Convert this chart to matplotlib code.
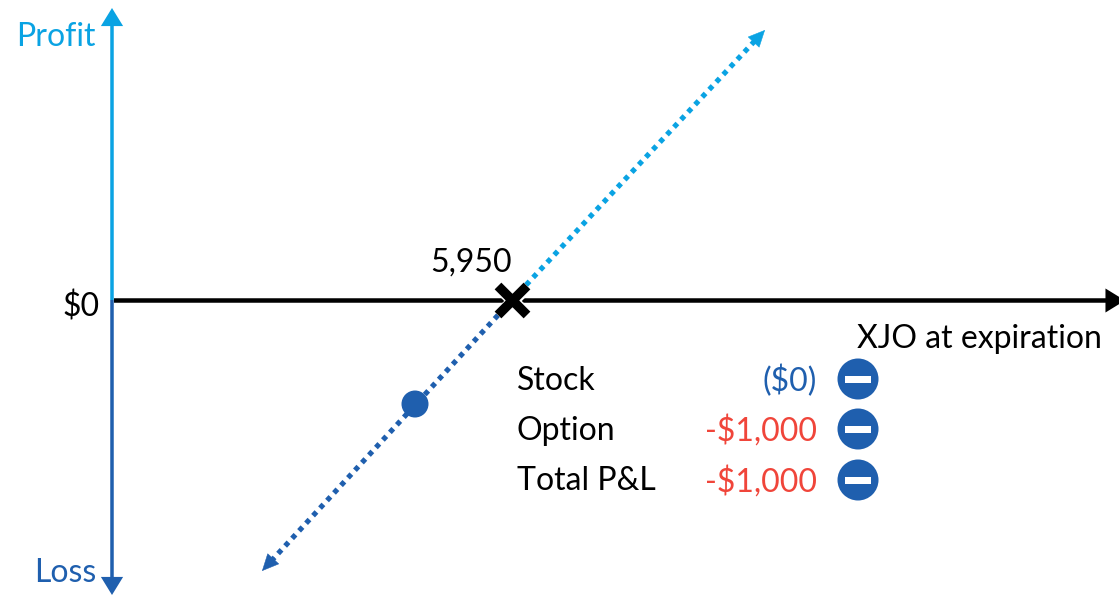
import matplotlib

matplotlib.use("Agg")
import matplotlib.pyplot as plt
import matplotlib.patheffects as pe
from matplotlib.patches import Circle, Rectangle

plt.rcParams["font.family"] = ["Lato", "DejaVu Sans"]
plt.rcParams["lines.scale_dashes"] = False

W, H = 1119, 595
PX = 72 / 100  # points per pixel at dpi 100

LIGHT = "#0AA3E3"
DARK = "#1F5FAE"
RED = "#F0453A"

# payoff line, in diagram units (pixels from top left)
breakeven_xy = (512, 300)
profit_end_xy = (765, 30)
loss_end_xy = (262, 571)
position_xy = (415, 404)

row_labels = ["Stock", "Option", "Total P&L"]
row_values = ["($0)", "-$1,000", "-$1,000"]
row_colors = [DARK, RED, RED]
row_y = [379, 429, 480]

fig = plt.figure(figsize=(W / 100, H / 100), dpi=100)
ax = fig.add_axes([0, 0, 1, 1])
ax.set_xlim(0, W)
ax.set_ylim(H, 0)
ax.axis("off")


def arrow(start, end, color, width, head_len=13, head_w=16):
    style = f"-|>,head_length={head_len * PX / 5:.2f},head_width={head_w / 2 * PX / 5:.2f}"
    ax.annotate(
        "",
        xy=end,
        xytext=start,
        arrowprops=dict(
            arrowstyle=style, mutation_scale=5, color=color, lw=width * PX,
            shrinkA=0, shrinkB=0, joinstyle="miter", capstyle="butt",
        ),
        annotation_clip=False,
    )


# axes
arrow((112, 300), (112, 8), LIGHT, 3.5)
arrow((112, 300), (112, 595), DARK, 3.5)
arrow((114, 300.5), (1125, 300.5), "black", 4.5)


def dotted(start, end, color):
    # stop short of the arrow head so the dots end at its base
    frac = 0.958
    stop = (start[0] + (end[0] - start[0]) * frac, start[1] + (end[1] - start[1]) * frac)
    ax.plot(
        [start[0], stop[0]], [start[1], stop[1]], color=color, lw=5.2 * PX,
        linestyle=(0, (5.0 * PX, 5.3 * PX)), dash_capstyle="butt",
    )
    before = (start[0] + (end[0] - start[0]) * 0.95, start[1] + (end[1] - start[1]) * 0.95)
    arrow(before, end, color, 0.5, head_len=16, head_w=15)


dotted(breakeven_xy, profit_end_xy, LIGHT)
dotted(breakeven_xy, loss_end_xy, DARK)

# break-even cross with a thin white halo
ax.plot(
    [breakeven_xy[0]], [breakeven_xy[1]], marker="x", ms=29 * PX, mew=9.5 * PX, color="black",
    path_effects=[pe.withStroke(linewidth=12.5 * PX, foreground="white")], zorder=5,
)
ax.add_patch(Circle(position_xy, 13.5, color=DARK, lw=0, zorder=5))


def label(x, y, s, color="black", ha="left"):
    ax.text(x, y + 1.5, s, color=color, ha=ha, va="center", fontsize=23, parse_math=False)


label(96, 35, "Profit", LIGHT, "right")
label(100, 305, "$0", "black", "right")
label(96, 571, "Loss", DARK, "right")
label(430, 261, "5,950")
label(1102, 338, "XJO at expiration", "black", "right")

for name, value, color, y in zip(row_labels, row_values, row_colors, row_y):
    label(517, y, name)
    label(817, y, value, color, "right")
    ax.add_patch(Circle((858, y), 20.5, color=DARK, lw=0))
    ax.add_patch(Rectangle((845, y - 3.5), 26, 7, color="white", lw=0))

fig.savefig("out.png", dpi=100)
